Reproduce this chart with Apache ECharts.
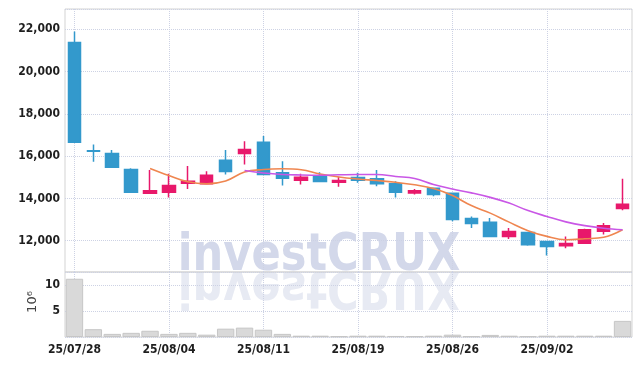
<!DOCTYPE html>
<html><head><meta charset="utf-8">
<script src="https://cdn.jsdelivr.net/npm/echarts@6/dist/echarts.min.js"></script>
<style>html,body{margin:0;padding:0;background:#fff}#c{width:639px;height:366px}</style>
</head><body><div id="c"></div>
<script>
const dates = ['25/07/28','25/07/29','25/07/30','25/07/31','25/08/01',
  '25/08/04','25/08/05','25/08/06','25/08/07','25/08/08',
  '25/08/11','25/08/12','25/08/13','25/08/14','25/08/18',
  '25/08/19','25/08/20','25/08/21','25/08/22','25/08/25',
  '25/08/26','25/08/27','25/08/28','25/08/29','25/09/01',
  '25/09/02','25/09/03','25/09/04','25/09/05','25/09/08'];
const opens  = [21380,16250,16130,15370,14250,14290,14720,14690,15810,16130,
                16660,15210,14860,15050,14770,14990,14930,14690,14260,14480,
                14240,13050,12870,12200,12390,11960,11760,11880,12450,13520];
const closes = [16660,16230,15480,14290,14360,14610,14810,15100,15270,16320,
                15130,14960,15000,14800,14850,14860,14690,14290,14360,14180,
                13000,12810,12200,12440,11810,11730,11870,12520,12710,13720];
const lows   = [16660,15730,15480,14290,14240,14040,14450,14690,15130,15610,
                15130,14610,14660,14780,14550,14740,14580,14040,14180,14100,
                12920,12600,12190,12080,11760,11300,11640,11860,12290,13440];
const highs  = [21900,16550,16290,15430,15340,15170,15530,15290,16290,16710,
                16950,15760,15170,15240,15020,15210,15340,14810,14450,14500,
                14270,13150,13080,12600,12400,11970,12200,12560,12840,14930];
const ma5  = [null,null,null,null,15420,15084,14785,14690,14823,15250,
              15369,15402,15355,15155,15013,14918,14847,14762,14643,14467,
              14135,13661,13305,12878,12475,12204,12047,12095,12166,12522];
const ma10 = [null,null,null,null,null,null,null,null,null,15322,
              15203,15132,15108,15098,15117,15132,15132,15037,14942,14657,
              14444,14263,14050,13779,13424,13148,12892,12712,12593,12522];
const volume = [11.2,1.5,0.6,0.8,1.2,0.6,0.8,0.45,1.6,1.8,
                1.4,0.6,0.25,0.25,0.15,0.25,0.25,0.2,0.15,0.25,
                0.45,0.15,0.4,0.25,0.15,0.25,0.25,0.25,0.25,3.1];
const volumeUnit = '10\u2076';

const candles = dates.map((d,i)=>[opens[i],closes[i],lows[i],highs[i]]);
const UP='#e8186b', DOWN='#3399cc';
const gridCol='#cdd2e4';
const labelFont={fontFamily:'"DejaVu Sans Condensed",sans-serif',fontWeight:'bold',fontSize:12,color:'#1e1e1e'};

const chart = echarts.init(document.getElementById('c'), null, {renderer:'canvas'});
chart.setOption({
  animation:false,
  backgroundColor:'#fff',
  grid:[
    {left:65,right:7,top:9,height:263,show:true,borderColor:'#d3d3d3',borderWidth:1},
    {left:65,right:7,top:272,height:65,show:true,borderColor:'#d3d3d3',borderWidth:1}
  ],
  xAxis:[
    {type:'category',data:dates,gridIndex:0,boundaryGap:true,
     axisLine:{show:false},axisTick:{show:false},axisLabel:{show:false},
     splitLine:{show:true,interval:4,alignWithLabel:true,lineStyle:{color:gridCol,type:'dotted',width:1}}},
    {type:'category',data:dates,gridIndex:1,boundaryGap:true,
     axisLine:{show:false},axisTick:{show:false},
     axisLabel:Object.assign({interval:4,margin:7},labelFont),
     splitLine:{show:true,interval:4,alignWithLabel:true,lineStyle:{color:gridCol,type:'dotted',width:1}}}
  ],
  yAxis:[
    {type:'value',gridIndex:0,min:10520,max:22960,splitNumber:6,
     axisLine:{show:false},axisTick:{show:false},
     axisLabel:Object.assign({showMinLabel:false,showMaxLabel:false,margin:5,
       formatter:v=>v.toLocaleString('en-US')},labelFont),
     splitLine:{show:true,lineStyle:{color:gridCol,type:'dotted',width:1}}},
    {type:'value',gridIndex:1,min:0,max:12.5,interval:5,
     axisLine:{show:false},axisTick:{show:false},
     axisLabel:Object.assign({showMinLabel:false,showMaxLabel:false,margin:5},labelFont),
     splitLine:{show:true,lineStyle:{color:gridCol,type:'dotted',width:1}}}
  ],
  graphic:[
    {type:'text',x:319,y:271,scaleX:0.83,scaleY:-1,z:-1,silent:true,
     style:{text:'investCRUX',x:0,y:-15,textAlign:'center',textVerticalAlign:'middle',
       font:'bold 52px "DejaVu Sans"',fill:'#e7eaf3'}},
    {type:'text',x:319,y:271,scaleX:0.83,scaleY:1,z:-1,silent:true,
     style:{text:'investCRUX',x:0,y:-15,textAlign:'center',textVerticalAlign:'middle',
       font:'bold 52px "DejaVu Sans"',fill:'#d3d8ea'}},
    {type:'text',x:33,y:302,rotation:Math.PI/2,silent:true,
     style:{text:volumeUnit,x:0,y:0,textAlign:'center',textVerticalAlign:'middle',
       font:'13px "DejaVu Sans"',fill:'#444'}}
  ],
  series:[
    {type:'candlestick',xAxisIndex:0,yAxisIndex:0,data:candles,barWidth:13,
     itemStyle:{color:UP,color0:DOWN,borderColor:UP,borderColor0:DOWN,borderWidth:1.5}},
    {type:'line',xAxisIndex:0,yAxisIndex:0,data:ma5,showSymbol:false,smooth:0.4,
     lineStyle:{color:'#ef8650',width:1.6}},
    {type:'line',xAxisIndex:0,yAxisIndex:0,data:ma10,showSymbol:false,smooth:0.4,
     lineStyle:{color:'#c957e6',width:1.6}},
    {type:'bar',xAxisIndex:1,yAxisIndex:1,data:volume,barCategoryGap:'8%',
     itemStyle:{color:'#d9d9d9',borderColor:'#c6c6c6',borderWidth:1}}
  ]
});
</script></body></html>
